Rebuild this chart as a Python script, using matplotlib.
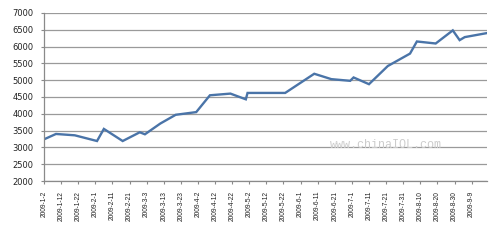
import matplotlib
matplotlib.use("Agg")
import matplotlib.pyplot as plt
import pandas as pd

# data
dates = ["2009-01-02", "2009-01-09", "2009-01-20", "2009-02-02", "2009-02-06",
         "2009-02-17", "2009-02-27", "2009-03-02", "2009-03-11", "2009-03-20",
         "2009-04-01", "2009-04-09", "2009-04-21", "2009-04-30", "2009-05-01",
         "2009-05-23", "2009-06-09", "2009-06-19", "2009-06-30", "2009-07-02",
         "2009-07-11", "2009-07-22", "2009-08-04", "2009-08-08", "2009-08-19",
         "2009-08-29", "2009-09-02", "2009-09-05", "2009-09-18"]
values = [3240, 3400, 3360, 3190, 3550,
          3190, 3450, 3390, 3710, 3970,
          4050, 4550, 4600, 4430, 4620,
          4620, 5190, 5030, 4980, 5080,
          4880, 5420, 5790, 6150, 6090,
          6480, 6190, 6280, 6400]
yticks = [2000, 2500, 3000, 3500, 4000, 4500, 5000, 5500, 6000, 6500, 7000]

x = pd.to_datetime(dates)
xticks = pd.date_range("2009-01-02", "2009-09-09", freq="10D")
xlabels = [f"{d.year}-{d.month}-{d.day}" for d in xticks]

fig = plt.figure(figsize=(5, 2.48), dpi=100)
ax = fig.add_axes([0.088, 0.270, 0.886, 0.678])

ax.plot(x, values, color="#4a74a8", linewidth=1.7, solid_joinstyle="miter")

ax.set_ylim(2000, 7000)
ax.set_yticks(yticks)
ax.set_xlim(x[0], x[-1])
ax.set_xticks(xticks)
ax.set_xticklabels(xlabels, rotation=90, family="Liberation Sans", fontsize=4.8)
for lbl in ax.get_yticklabels():
    lbl.set_fontsize(6)

ax.grid(axis="y", color="#9a9a9a", linewidth=0.9)
ax.set_axisbelow(True)
for s in ["top", "right"]:
    ax.spines[s].set_visible(False)
for s in ["left", "bottom"]:
    ax.spines[s].set_color("#8a8a8a")
    ax.spines[s].set_linewidth(0.9)
ax.tick_params(axis="y", length=2.5, color="#8a8a8a", pad=5, labelcolor="#222222")
ax.tick_params(axis="x", length=2.5, color="#8a8a8a", pad=4.5, labelcolor="#222222")

fig.text(0.66, 0.405, "www.chinaIOL.com", family="Liberation Mono", fontsize=8.5,
         color="#cccccc")

fig.savefig("out.png", dpi=100)
